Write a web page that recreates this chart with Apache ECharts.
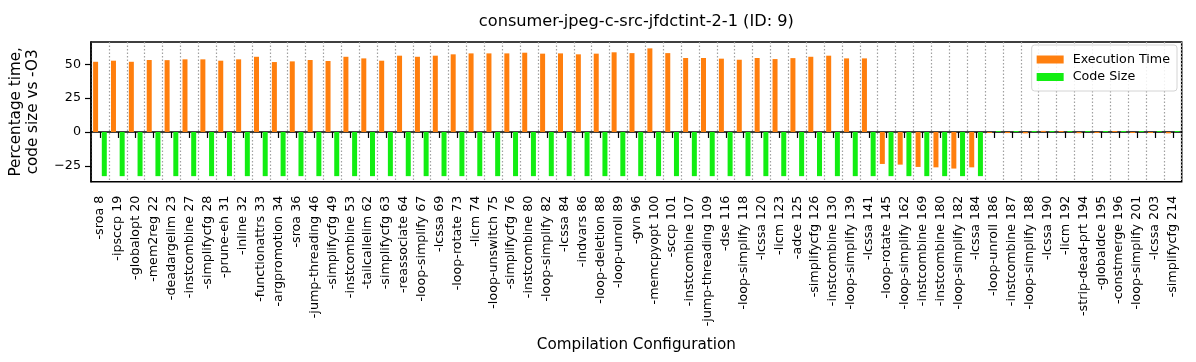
<!DOCTYPE html>
<html>
<head>
<meta charset="utf-8">
<script src="https://cdn.jsdelivr.net/npm/echarts@6/dist/echarts.min.js"></script>
<style>
  html, body { margin: 0; padding: 0; background: #fff; }
  #chart { width: 1196px; height: 362px; }
</style>
</head>
<body>
<div id="chart"></div>
<script>
const chartTitle = 'consumer-jpeg-c-src-jfdctint-2-1 (ID: 9)'
const categories = [
  '-sroa 8', '-ipsccp 19', '-globalopt 20', '-mem2reg 22', '-deadargelim 23',
  '-instcombine 27', '-simplifycfg 28', '-prune-eh 31', '-inline 32', '-functionattrs 33',
  '-argpromotion 34', '-sroa 36', '-jump-threading 46', '-simplifycfg 49', '-instcombine 53',
  '-tailcallelim 62', '-simplifycfg 63', '-reassociate 64', '-loop-simplify 67', '-lcssa 69',
  '-loop-rotate 73', '-licm 74', '-loop-unswitch 75', '-simplifycfg 76', '-instcombine 80',
  '-loop-simplify 82', '-lcssa 84', '-indvars 86', '-loop-deletion 88', '-loop-unroll 89',
  '-gvn 96', '-memcpyopt 100', '-sccp 101', '-instcombine 107', '-jump-threading 109',
  '-dse 116', '-loop-simplify 118', '-lcssa 120', '-licm 123', '-adce 125',
  '-simplifycfg 126', '-instcombine 130', '-loop-simplify 139', '-lcssa 141', '-loop-rotate 145',
  '-loop-simplify 162', '-instcombine 169', '-instcombine 180', '-loop-simplify 182', '-lcssa 184',
  '-loop-unroll 186', '-instcombine 187', '-loop-simplify 188', '-lcssa 190', '-licm 192',
  '-strip-dead-prt 194', '-globaldce 195', '-constmerge 196', '-loop-simplify 201', '-lcssa 203',
  '-simplifycfg 214'
]
const execTime = [
  51.8, 52.6, 51.8, 53.1, 53.0, 53.6, 53.6, 52.6, 53.6, 55.5,
  51.6, 52.1, 53.1, 52.4, 55.5, 54.3, 52.6, 56.3, 55.5, 56.3,
  57.3, 58.0, 58.0, 58.0, 58.5, 57.8, 58.0, 57.3, 57.8, 58.8,
  58.2, 61.7, 58.2, 54.6, 54.6, 54.1, 53.3, 54.6, 53.8, 54.5,
  55.5, 56.3, 54.3, 54.3, -23.6, -24.1, -25.8, -26.1, -27.0, -26.1,
  -0.3, -0.8, -1.0, 0.8, 0.1, -0.9, -0.7, 0.7, -0.6, -0.4,
  -1.0
]
const codeSize = [
  -32.6, -32.6, -32.6, -32.6, -32.6, -32.6, -32.6, -32.6, -32.6, -32.6,
  -32.6, -32.6, -32.6, -32.6, -32.6, -32.6, -32.6, -32.6, -32.6, -32.6,
  -32.6, -32.6, -32.6, -32.6, -32.6, -32.6, -32.6, -32.6, -32.6, -32.6,
  -32.6, -32.6, -32.6, -32.6, -32.6, -32.6, -32.6, -32.6, -32.6, -32.6,
  -32.6, -32.6, -32.6, -32.6, -32.6, -32.6, -32.6, -32.6, -32.6, -32.6,
  0, 0, 0, 0, 0, 0, 0, 0, 0, 0,
  0
]
const yTicks = [-25, 0, 25, 50]
const yMin = -36.7
const yMax = 66.4

const font = 'DejaVu Sans'
const chart = echarts.init(document.getElementById('chart'))

chart.setOption({
  animation: false,
  backgroundColor: '#fff',
  textStyle: { fontFamily: font },
  grid: {
    left: 91,
    right: 14.3,
    top: 42,
    bottom: 180.3,
    show: true,
    borderColor: '#000',
    borderWidth: 1.5,
    outerBoundsMode: 'none',
  },
  legend: {
    orient: 'vertical',
    right: 19,
    top: 45,
    itemWidth: 27,
    itemHeight: 8,
    itemGap: 4.5,
    icon: 'rect',
    padding: [8, 7, 7.5, 5],
    backgroundColor: 'rgba(255,255,255,0.85)',
    borderColor: '#d4d4d4',
    borderWidth: 1,
    borderRadius: 3,
    textStyle: { fontFamily: font, fontSize: 12.7, color: '#000', padding: [0, 0, 0, 4] },
    data: ['Execution Time', 'Code Size'],
  },
  xAxis: [
    {
      type: 'category',
      data: categories,
      boundaryGap: true,
      name: 'Compilation Configuration',
      nameLocation: 'middle',
      nameGap: 156,
      nameTextStyle: { fontFamily: font, fontSize: 15.2, color: '#000' },
      axisLine: { show: true, lineStyle: { color: '#000', width: 1.5 } },
      axisTick: { show: true, alignWithLabel: true, interval: 0, length: 6, lineStyle: { color: '#000', width: 1.2 } },
      axisLabel: { interval: 0, rotate: 90, margin: 14, fontFamily: font, fontSize: 12.7, color: '#000' },
      splitLine: { show: true, interval: 0, lineStyle: { color: '#a0a0a0', width: 1.2, type: [1.5, 2] } },
    },
    {
      // hidden top axis, only used to centre the title over the plot
      type: 'category',
      position: 'top',
      data: categories,
      name: chartTitle,
      nameLocation: 'middle',
      nameGap: 12,
      nameTextStyle: { fontFamily: font, fontSize: 16.2, color: '#000' },
      axisLine: { show: false },
      axisTick: { show: false },
      axisLabel: { show: false },
      splitLine: { show: false },
    },
  ],
  yAxis: {
    type: 'value',
    min: yMin,
    max: yMax,
    name: 'Percentage time,\ncode size vs -O3',
    nameLocation: 'middle',
    nameRotate: 90,
    nameGap: 49,
    nameTextStyle: { fontFamily: font, fontSize: 15.2, color: '#000', lineHeight: 17 },
    axisLine: { show: true, lineStyle: { color: '#000', width: 1.5 } },
    axisTick: { show: true, length: 6, customValues: yTicks, lineStyle: { color: '#000', width: 1.2 } },
    axisLabel: {
      margin: 10,
      customValues: yTicks,
      fontFamily: font,
      fontSize: 12.7,
      color: '#000',
      formatter: v => String(v).replace('-', '\u2212'),
    },
    splitLine: { show: false },
  },
  series: [
    {
      name: 'Execution Time',
      type: 'bar',
      xAxisIndex: 0,
      data: execTime,
      barWidth: 5,
      barGap: '74%',
      barMinHeight: 1,
      itemStyle: { color: '#ff7f0e' },
    },
    {
      name: 'Code Size',
      type: 'bar',
      xAxisIndex: 0,
      data: codeSize,
      barWidth: 5,
      barGap: '74%',
      barMinHeight: 1,
      itemStyle: { color: '#12ee12' },
    },
  ],
})
</script>
</body>
</html>
